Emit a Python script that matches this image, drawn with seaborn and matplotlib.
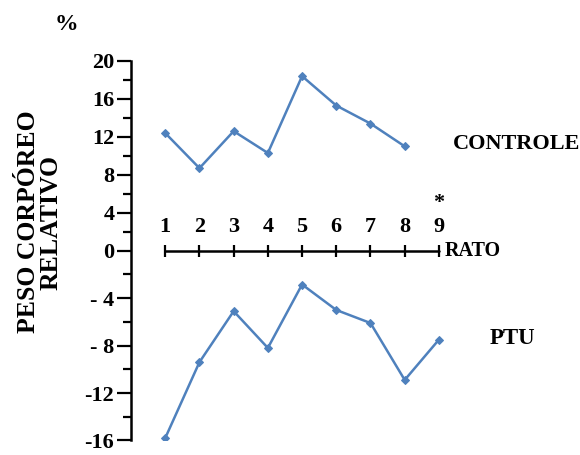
import numpy as np
import pandas as pd
import matplotlib
matplotlib.use('Agg')
import matplotlib.pyplot as plt
import seaborn as sns

# data
rats = [1, 2, 3, 4, 5, 6, 7, 8, 9]
rats_controle = [1, 2, 3, 4, 5, 6, 7, 8]
controle = [12.4, 8.7, 12.6, 10.3, 18.4, 15.3, 13.4, 11.0]
rats_ptu = [1, 2, 3, 4, 5, 6, 7, 8, 9]
ptu = [-15.8, -9.4, -5.1, -8.2, -2.85, -5.0, -6.1, -10.9, -7.5]

y_ticks = [-16, -12, -8, -4, 0, 4, 8, 12, 16, 20]
y_tick_labels = ['-16', '-12', '- 8', '- 4', '0', '4', '8', '12', '16', '20']

blue = '#4f81bd'
neg_stretch = 1.25  # negative half of the axis is drawn taller in the original


def fwd(y):
    y = np.asarray(y, dtype=float)
    return np.where(y >= 0, y, y * neg_stretch)


def inv(u):
    u = np.asarray(u, dtype=float)
    return np.where(u >= 0, u, u / neg_stretch)


sns.set_style('white')
plt.rcParams['font.family'] = ['Liberation Serif', 'DejaVu Serif']
plt.rcParams['font.weight'] = 'bold'
plt.rcParams['text.color'] = 'black'
plt.rcParams['ytick.color'] = 'black'

fig = plt.figure(figsize=(5.8, 4.55), dpi=100)
ax = fig.add_axes([0.2259, 0.032, 0.755, 0.834])
ax.set_yscale('function', functions=(fwd, inv))

df_c = pd.DataFrame({'rato': rats_controle, 'peso': controle})
df_p = pd.DataFrame({'rato': rats_ptu, 'peso': ptu})
sns.lineplot(data=df_c, x='rato', y='peso', color=blue, lw=1.8,
             marker='D', markersize=4.5, markeredgecolor=blue, ax=ax)
sns.lineplot(data=df_p, x='rato', y='peso', color=blue, lw=1.8,
             marker='D', markersize=4.5, markeredgecolor=blue, ax=ax)

# the "RATO" axis drawn at zero
ax.plot(rats, np.zeros(len(rats)), color='black', lw=1.8,
        marker='|', markersize=9, markeredgewidth=1.6, zorder=1)
for r in rats:
    ax.annotate(str(r), (r, 0), xytext=(0, 17), textcoords='offset points',
                ha='center', va='center', fontsize=16, fontweight='bold')
ax.annotate('*', (rats[-1], 0), xytext=(0, 34), textcoords='offset points',
            ha='center', va='center', fontsize=16, fontweight='bold')
ax.annotate('RATO', (rats[-1], 0), xytext=(4, 0), textcoords='offset points',
            ha='left', va='center', fontsize=14.5, fontweight='bold')

ax.text(9.4, 11.3, 'CONTROLE', ha='left', va='center', fontsize=16, fontweight='bold')
ax.text(10.48, -7.4, 'PTU', ha='left', va='center', fontsize=16.5, fontweight='bold')

ax.set_xlim(0, 12.8)
ax.set_ylim(-16, 20)
ax.set_xticks([])
ax.set_yticks(y_ticks)
ax.set_yticklabels(y_tick_labels)
ax.set_yticks(np.arange(-14, 20, 4), minor=True)
ax.tick_params(axis='y', which='major', length=10, width=1.6, pad=2,
               labelsize=16, direction='out', left=True)
ax.tick_params(axis='y', which='minor', length=6, width=1.6, direction='out', left=True)
for lab in ax.get_yticklabels():
    lab.set_fontweight('bold')
ax.set_xlabel('')
ax.set_ylabel('')
for s in ['top', 'right', 'bottom']:
    ax.spines[s].set_visible(False)
ax.spines['left'].set_linewidth(1.8)
ax.spines['left'].set_color('black')

fig.text(40 / 580, 1 - 222 / 455, 'PESO CORPÓREO\nRELATIVO', rotation=90,
         ha='center', va='center', multialignment='center',
         fontsize=18.5, fontweight='bold', linespacing=1.0)
fig.text(66 / 580, 1 - 24 / 455, '%', ha='center', va='center',
         fontsize=17, fontweight='bold')

fig.savefig('out.png', dpi=100)
